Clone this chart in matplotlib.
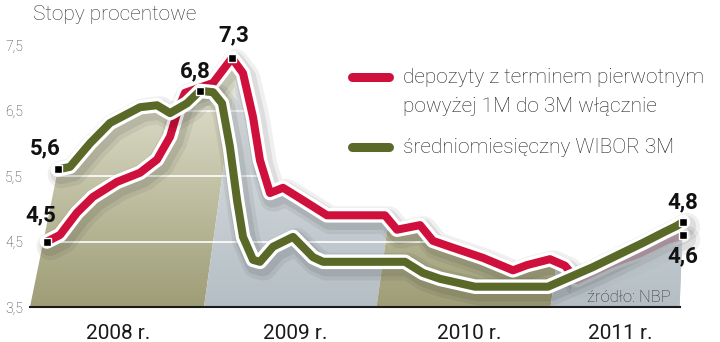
import numpy as np
import matplotlib
matplotlib.use("Agg")
import matplotlib.pyplot as plt
import matplotlib.patheffects as pe
from matplotlib import font_manager
from matplotlib.lines import Line2D
from matplotlib.patches import Polygon
from matplotlib.colors import LinearSegmentedColormap

# oś x: miesiące od początku 2008 r., oś y: stopy w %
dep_x = [1.17, 2.07, 3.24, 4.34, 6.0, 7.59, 8.76, 9.66, 10.21, 10.69, 12.62, 13.93,
         14.69, 15.38, 15.86, 16.55, 17.45, 18.83, 20.48, 24.48, 25.31, 26.9, 27.79,
         28.97, 31.24, 33.31, 34.28, 35.86, 36.9, 37.72, 40.21, 42.07, 43.93, 45.03]
dep_y = [4.5, 4.60, 4.94, 5.18, 5.41, 5.55, 5.75, 6.10, 6.51, 6.77, 6.92, 7.3,
         7.07, 6.40, 5.74, 5.24, 5.32, 5.13, 4.90, 4.90, 4.68, 4.75, 4.51,
         4.42, 4.25, 4.06, 4.14, 4.23, 4.13, 3.91, 4.17, 4.32, 4.52, 4.6]

wibor_x = [1.93, 2.76, 4.14, 5.52, 7.59, 8.76, 9.66, 10.83, 11.72, 12.62, 13.24, 13.79,
           14.28, 14.69, 15.38, 15.86, 16.76, 18.14, 19.52, 20.21, 25.86, 27.10, 28.28,
           30.69, 35.72, 38.83, 42.28, 43.79, 44.62, 45.03]
wibor_y = [5.6, 5.64, 6.00, 6.31, 6.55, 6.58, 6.46, 6.61, 6.8, 6.78, 6.61, 5.94,
           5.13, 4.57, 4.22, 4.19, 4.42, 4.57, 4.26, 4.19, 4.19, 4.02, 3.93,
           3.81, 3.81, 4.11, 4.48, 4.65, 4.74, 4.8]

# punkty opisane wartością: (indeks, przesunięcie etykiety w pt)
dep_marks = [(0, (-4.3, 18.7)), (11, (1.4, 16.5)), (33, (0, -15.1))]
wibor_marks = [(0, (-9.4, 15.1)), (8, (-3.6, 14.4)), (29, (0, 13.7))]

years = ["2008 r.", "2009 r.", "2010 r.", "2011 r."]
year_pos = [6.1, 18.3, 30.3, 40.7]
year_edges = [-3, 12.0, 23.9, 35.9, 52]
yticks = [3.5, 4.5, 5.5, 6.5, 7.5]

RED = "#cf0f3c"
GREEN = "#5a6828"
OLIVE = ["#9e9d76", "#e6e6d6"]
STEEL = ["#b4bec4", "#e4e8ea"]


def pick(*names):
    have = {f.name for f in font_manager.fontManager.ttflist}
    for n in names:
        if n in have:
            return n
    return "DejaVu Sans"


light = pick("Roboto", "Open Sans", "Lato", "DejaVu Sans")
bold = pick("Roboto", "Liberation Sans", "DejaVu Sans")

fig = plt.figure(figsize=(7.2, 3.42), dpi=100)
W, H = 720, 342
ax = fig.add_axes([30 / W, 35 / H, 670 / W, 287 / H])
x0, x1 = 0, 670 / 14.5
y0, y1 = 3.5, 3.5 + 287 / 65.5
grad = np.linspace(0, 1, 256).reshape(-1, 1)

# pasy lat - skośne granice
slant = 0.63
for i in range(4):
    a, b = year_edges[i], year_edges[i + 1]
    quad = Polygon([(a, y0), (b, y0), (b + slant * (y1 - y0), y1), (a + slant * (y1 - y0), y1)],
                   closed=True, transform=ax.transData, facecolor="none", edgecolor="none")
    ax.add_patch(quad)
    cmap = LinearSegmentedColormap.from_list("g", OLIVE if i % 2 == 0 else STEEL)
    im = ax.imshow(grad, cmap=cmap, origin="lower", aspect="auto",
                   extent=[a - 1, b + slant * (y1 - y0) + 1, y0, 7.2], zorder=1)
    im.set_clip_path(quad)

# biała maska nad obwiednią obu linii
grid = np.linspace(wibor_x[0], wibor_x[-1], 800)
top = np.maximum(np.interp(grid, dep_x, dep_y), np.interp(grid, wibor_x, wibor_y))
mask = [(x0 - 5, y0), (0, y0)] + list(zip(grid, top)) + \
       [(44.8, y0), (x1 + 5, y0), (x1 + 5, y1 + 1), (x0 - 5, y1 + 1)]
ax.add_patch(Polygon(mask, closed=True, facecolor="white", edgecolor="none", zorder=2))

for v in yticks[1:]:
    ax.axhline(v, color="white", lw=1.2, zorder=3)


def band():
    return [pe.SimpleLineShadow(offset=(2.5, -3.5), shadow_color="k", alpha=0.06, linewidth=20),
            pe.SimpleLineShadow(offset=(2, -3), shadow_color="k", alpha=0.08, linewidth=15),
            pe.Stroke(linewidth=10.5, foreground="white"),
            pe.Normal()]


ax.plot(dep_x, dep_y, color=RED, lw=5.8, solid_joinstyle="round", solid_capstyle="round",
        path_effects=band(), zorder=4)

# w 2011 r. depozyty chowają się pod tłem pod linią WIBOR
gx = grid[grid >= 37.3]
gy = np.interp(gx, wibor_x, wibor_y)
tail = Polygon([(37.3, y0)] + list(zip(gx, gy)) + [(44.8, y0)], closed=True,
               transform=ax.transData, facecolor="none", edgecolor="none")
ax.add_patch(tail)
im = ax.imshow(grad, cmap=LinearSegmentedColormap.from_list("g", STEEL), origin="lower",
               aspect="auto", extent=[36, 47, y0, 7.2], alpha=0.82, zorder=4.5)
im.set_clip_path(tail)

ax.plot(wibor_x, wibor_y, color=GREEN, lw=5.8, solid_joinstyle="round", solid_capstyle="round",
        path_effects=band(), zorder=5)

for xs, ys, marks in [(dep_x, dep_y, dep_marks), (wibor_x, wibor_y, wibor_marks)]:
    for idx, off in marks:
        ax.plot(xs[idx], ys[idx], marker="s", ms=5.5, mfc="black", mec="white", mew=1,
                zorder=7, clip_on=False)
        ax.annotate(f"{ys[idx]:.1f}".replace(".", ","), (xs[idx], ys[idx]),
                    xytext=off, textcoords="offset points", ha="center", va="center",
                    fontsize=16, fontweight="bold", family=bold, color="#111", zorder=8,
                    annotation_clip=False)

ax.set_xlim(x0, x1)
ax.set_ylim(y0, y1)
for s in ["top", "right", "left"]:
    ax.spines[s].set_visible(False)
ax.spines["bottom"].set_bounds(0, 44.85)
ax.spines["bottom"].set_color("#1a1a1a")
ax.spines["bottom"].set_linewidth(1.5)
ax.spines["bottom"].set_zorder(6)
ax.set_yticks(yticks, [f"{v:.1f}".replace(".", ",") for v in yticks])
ax.set_xticks(year_pos, years)
ax.tick_params(axis="y", length=0, pad=5, labelsize=10, labelcolor="#333")
ax.tick_params(axis="x", length=0, pad=12, labelsize=15, labelcolor="#1a1a1a")
for t in ax.get_yticklabels():
    t.set_family(light)
    t.set_fontweight("light")
for t in ax.get_xticklabels():
    t.set_family(light)

fig.text(33 / W, 1 - 20 / H, "Stopy procentowe", fontsize=15, family=light,
         fontweight="light", color="#333", va="baseline")

# legenda
for yy, col in [(77, RED), (147, GREEN)]:
    fig.add_artist(Line2D([352 / W, 389 / W], [1 - yy / H, 1 - yy / H], color=col, lw=6.5,
                          solid_capstyle="round", transform=fig.transFigure))
for yy, txt in [(83, "depozyty z terminem pierwotnym"), (112, "powyżej 1M do 3M włącznie"),
                (153, "średniomiesięczny WIBOR 3M")]:
    fig.text(403 / W, 1 - yy / H, txt, fontsize=15, family=light, fontweight="light",
             color="#222", va="baseline")

fig.text(587 / W, 1 - 302 / H, "źródło: NBP", fontsize=12, family=light,
         fontweight="light", color="#333", va="baseline", zorder=8)

fig.savefig("out.png", dpi=100)
